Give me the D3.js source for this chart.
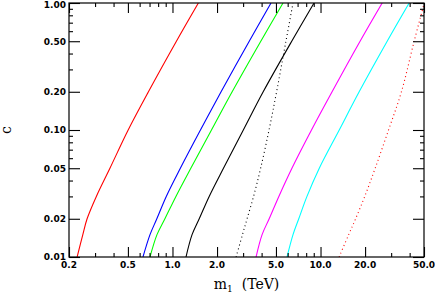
<!DOCTYPE html>
<html>
<head>
<meta charset="utf-8">
<script src="https://cdn.jsdelivr.net/npm/d3@7"></script>
<style>
  body { margin: 0; background: #fff; }
  .tick-label { font-family: "DejaVu Sans", sans-serif; font-weight: bold; font-size: 9px; fill: #000; }
  .axis-title { font-family: "DejaVu Serif", serif; font-size: 14px; fill: #000; }
</style>
</head>
<body>
<svg id="chart"></svg>
<script>
// c values shared by every curve
let cGrid = [0.01, 0.015, 0.02, 0.03, 0.05, 0.1, 0.2, 0.5, 1.0];

// m1 (TeV) along each curve
let mRed      = [0.227, 0.248, 0.265, 0.306, 0.378, 0.502, 0.688, 1.063, 1.496];
let mBlue     = [0.632, 0.705, 0.784, 0.908, 1.13, 1.545, 2.13, 3.30, 4.63];
let mGreen    = [0.705, 0.786, 0.889, 1.055, 1.33, 1.834, 2.53, 3.95, 5.58];
let mBlack    = [1.234, 1.356, 1.516, 1.77, 2.21, 3.01, 4.10, 6.39, 9.04];
let mBlackDot = [2.69, 2.97, 3.19, 3.53, 3.94, 4.49, 5.05, 5.84, 6.52];
let mMagenta  = [3.67, 4.03, 4.50, 5.23, 6.41, 8.69, 11.97, 18.5, 26.1];
let mCyan     = [5.94, 6.52, 7.13, 8.10, 9.81, 13.38, 18.24, 28.2, 39.7];
let mRedDot   = [13.35, 15.5, 17.26, 19.9, 23.4, 28.8, 35.2, 42.9, 50.2];

// ticks
let xMajor = [0.2, 0.5, 1, 2, 5, 10, 20, 50];
let xMajorLabels = ["0.2", "0.5", "1.0", "2.0", "5.0", "10.0", "20.0", "50.0"];
let xMinor = [0.3, 0.4, 0.6, 0.7, 0.8, 0.9, 3, 4, 6, 7, 8, 9, 30, 40];
let yMajor = [0.01, 0.02, 0.05, 0.1, 0.2, 0.5, 1];
let yMajorLabels = ["0.01", "0.02", "0.05", "0.10", "0.20", "0.50", "1.00"];
let yMinor = [0.03, 0.04, 0.06, 0.07, 0.08, 0.09, 0.3, 0.4, 0.6, 0.7, 0.8, 0.9];

let margin = { top: 3, right: 11, bottom: 37, left: 69 };
let w = 435, h = 294;

let xScale = d3.scaleLog()
    .domain([0.2, 50])
    .range([margin.left, w - margin.right]);

let yScale = d3.scaleLog()
    .domain([0.01, 1])
    .range([h - margin.bottom, margin.top]);

let svg = d3.select("#chart")
    .attr("width", w)
    .attr("height", h);

svg.append("clipPath")
    .attr("id", "plot-clip")
    .append("rect")
    .attr("x", margin.left)
    .attr("y", margin.top)
    .attr("width", w - margin.left - margin.right)
    .attr("height", h - margin.top - margin.bottom);

let curves = [
    { m: mRed, color: "#ff0000", dash: null },
    { m: mBlue, color: "#0000ff", dash: null },
    { m: mGreen, color: "#00ff00", dash: null },
    { m: mBlack, color: "#000000", dash: null },
    { m: mBlackDot, color: "#000000", dash: "1,3" },
    { m: mMagenta, color: "#ff00ff", dash: null },
    { m: mCyan, color: "#00ffff", dash: null },
    { m: mRedDot, color: "#ff0000", dash: "1,3" }
];

let line = d3.line()
    .x(d => xScale(d[0]))
    .y(d => yScale(d[1]))
    .curve(d3.curveCatmullRom.alpha(0.5));

svg.append("g")
    .attr("clip-path", "url(#plot-clip)")
    .selectAll("path")
    .data(curves)
    .enter()
    .append("path")
    .attr("d", d => line(d.m.map((m, i) => [m, cGrid[i]])))
    .attr("fill", "none")
    .attr("stroke", d => d.color)
    .attr("stroke-width", 1.1)
    .attr("stroke-dasharray", d => d.dash);

// axes on all four sides, ticks pointing inward
let x0 = xScale.range()[0], x1 = xScale.range()[1];
let y0 = yScale.range()[0], y1 = yScale.range()[1];

function tickSet(g, axisFn, values, size) {
    g.call(axisFn.tickValues(values).tickSize(size).tickFormat(""));
}

let axes = svg.append("g").attr("class", "axes");

[[xMajor, 10], [xMinor, 4]].forEach(function (t) {
    axes.append("g").attr("transform", "translate(0," + y0 + ")")
        .call(g => tickSet(g, d3.axisTop(xScale), t[0], t[1]));
    axes.append("g").attr("transform", "translate(0," + y1 + ")")
        .call(g => tickSet(g, d3.axisBottom(xScale), t[0], t[1]));
});
[[yMajor, 11], [yMinor, 4]].forEach(function (t) {
    axes.append("g").attr("transform", "translate(" + x0 + ",0)")
        .call(g => tickSet(g, d3.axisRight(yScale), t[0], t[1]));
    axes.append("g").attr("transform", "translate(" + x1 + ",0)")
        .call(g => tickSet(g, d3.axisLeft(yScale), t[0], t[1]));
});
axes.selectAll(".domain").remove();
axes.selectAll("line").attr("stroke", "#000").attr("stroke-width", 1.1);

svg.append("rect")
    .attr("x", x0)
    .attr("y", y1)
    .attr("width", x1 - x0)
    .attr("height", y0 - y1)
    .attr("fill", "none")
    .attr("stroke", "#000")
    .attr("stroke-width", 1.2);

// tick labels
svg.selectAll("text.xlab")
    .data(xMajor)
    .enter()
    .append("text")
    .attr("class", "tick-label")
    .attr("x", d => xScale(d))
    .attr("y", y0 + 11)
    .attr("text-anchor", "middle")
    .text((d, i) => xMajorLabels[i]);

// the top label sits at the window edge, nudge it down a little
svg.selectAll("text.ylab")
    .data(yMajor)
    .enter()
    .append("text")
    .attr("class", "tick-label")
    .attr("x", x0 - 3)
    .attr("y", d => Math.max(yScale(d) + 3.3, 8))
    .attr("text-anchor", "end")
    .text((d, i) => yMajorLabels[i]);

// axis titles
let xTitle = svg.append("text")
    .attr("class", "axis-title")
    .attr("x", (x0 + x1) / 2)
    .attr("y", 289)
    .attr("text-anchor", "middle");
xTitle.append("tspan").text("m");
xTitle.append("tspan").attr("dy", 3).attr("font-size", "9px").text("1");
xTitle.append("tspan").attr("dy", -3).text("\u00a0 (TeV)");

svg.append("text")
    .attr("class", "axis-title")
    .attr("transform", "translate(11," + ((y0 + y1) / 2) + ") rotate(-90)")
    .attr("text-anchor", "middle")
    .text("c");
</script>
</body>
</html>
